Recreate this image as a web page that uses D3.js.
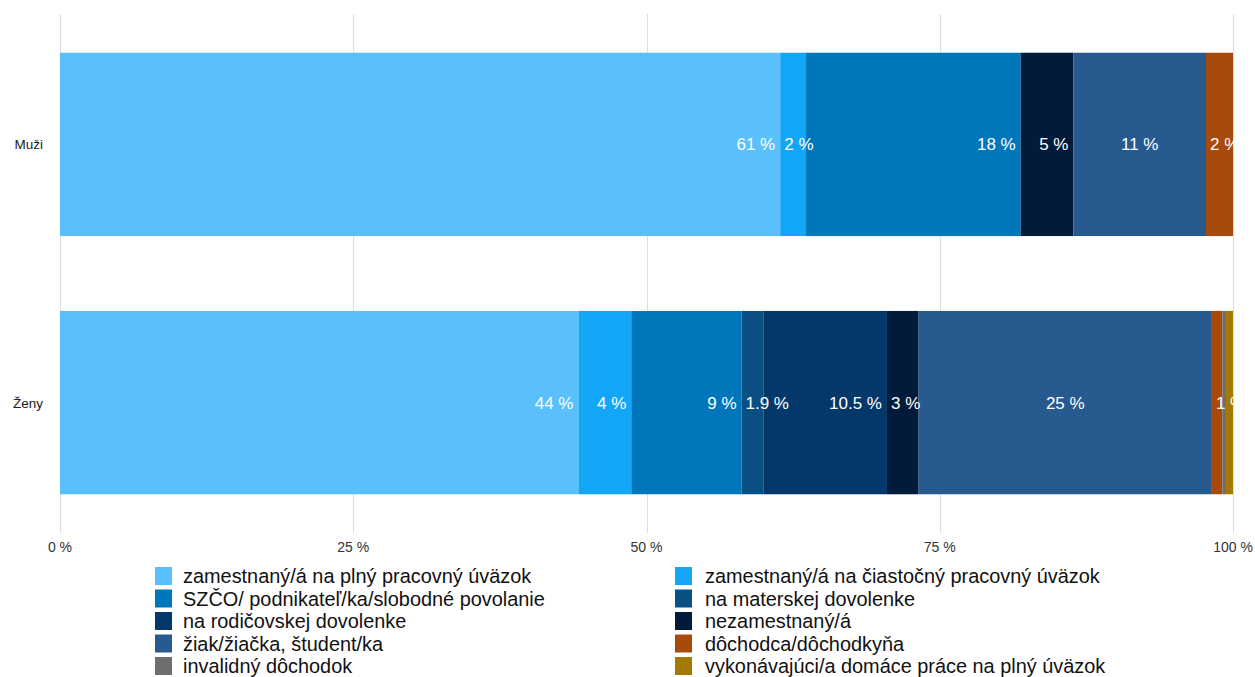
<!DOCTYPE html>
<html lang="sk">
<head>
<meta charset="utf-8">
<title>Muži / Ženy</title>
<script src="https://cdn.jsdelivr.net/npm/d3@7"></script>
<style>
  body { margin: 0; background: #fff; }
  svg { font-family: "Helvetica Neue", Helvetica, "Liberation Sans", Arial, sans-serif; }
  .grid line { stroke: #dedede; stroke-width: 1; }
  .tick-label { font-size: 14px; fill: #333; }
  .cat-label { font-size: 13.5px; fill: #222; }
  .val-label { font-size: 17px; fill: #fff; }
  .legend text { font-size: 19.9px; fill: #111; }
</style>
</head>
<body>
<div id="chart"></div>
<script>
var groups = ["Muži", "Ženy"];

var seriesNames = [
  "zamestnaný/á na plný pracovný úväzok",
  "zamestnaný/á na čiastočný pracovný úväzok",
  "SZČO/ podnikateľ/ka/slobodné povolanie",
  "na materskej dovolenke",
  "na rodičovskej dovolenke",
  "nezamestnaný/á",
  "žiak/žiačka, študent/ka",
  "dôchodca/dôchodkyňa",
  "invalidný dôchodok",
  "vykonávajúci/a domáce práce na plný úväzok"
];

var seriesColors = ["#5ac0fb", "#14a6f6", "#0077bb", "#0a4f83", "#04386a",
                    "#021b3a", "#275b90", "#a84a0c", "#6e6e6e", "#a27a04"];

// percent values, same order as seriesNames
var muziValues = [61.4, 2.2, 18.3, 0, 0, 4.5, 11.3, 2.3, 0, 0];
var zenyValues = [44.2, 4.5, 9.4, 1.9, 10.5, 2.7, 25.0, 0.9, 0.3, 0.6];

var muziLabels = ["61 %", "2 %", "18 %", "", "", "5 %", "11 %", "2 %", "", ""];
var zenyLabels = ["44 %", "4 %", "9 %", "1.9 %", "10.5 %", "3 %", "25 %", "1 %", "", ""];

// label placement inside a segment
var labelAlign = ["end", "end", "end", "end", "end", "end", "middle", "end", "end", "end"];

var xTicks = [0, 25, 50, 75, 100];

var width = 1255, height = 677;
var margin = { left: 60, right: 22, top: 14, bottom: 144 };

var svg = d3.select('#chart').append('svg')
    .attr('width', width)
    .attr('height', height);

var x = d3.scaleLinear()
    .domain([0, 100])
    .range([margin.left, width - margin.right]);

var y = d3.scaleBand()
    .domain(groups)
    .range([margin.top, height - margin.bottom])
    .paddingInner(0.29)
    .paddingOuter(0.15);

// gridlines
svg.append('g')
    .attr('class', 'grid')
    .selectAll('line')
    .data(xTicks)
    .enter().append('line')
    .attr('x1', d => Math.round(x(d)) + 0.5)
    .attr('x2', d => Math.round(x(d)) + 0.5)
    .attr('y1', margin.top)
    .attr('y2', height - margin.bottom);

svg.append('g')
    .selectAll('text')
    .data(xTicks)
    .enter().append('text')
    .attr('class', 'tick-label')
    .attr('x', d => x(d))
    .attr('y', 552)
    .attr('text-anchor', 'middle')
    .text(d => d + ' %');

// stacked bars
var rows = [
  { name: groups[0], values: muziValues, labels: muziLabels },
  { name: groups[1], values: zenyValues, labels: zenyLabels }
];

rows.forEach(function (row) {
    var acc = 0;
    var segs = row.values.map(function (v, i) {
        var s = { i: i, start: acc, end: acc + v, label: row.labels[i] };
        acc += v;
        return s;
    }).filter(s => s.end > s.start);

    var g = svg.append('g');

    g.selectAll('rect')
        .data(segs)
        .enter().append('rect')
        .attr('x', d => x(d.start))
        .attr('width', d => x(d.end) - x(d.start))
        .attr('y', y(row.name))
        .attr('height', y.bandwidth())
        .attr('fill', d => seriesColors[d.i]);

    var cy = y(row.name) + y.bandwidth() / 2 + 6;

    g.selectAll('text')
        .data(segs.filter(s => s.label))
        .enter().append('text')
        .attr('class', 'val-label')
        .attr('y', cy)
        .text(d => d.label)
        .each(function (d) {
            var t = d3.select(this);
            var tw = this.getComputedTextLength();
            var x0 = x(d.start), x1 = x(d.end);
            var mode = labelAlign[d.i];
            if (tw + 10 > x1 - x0) mode = 'start';
            if (mode === 'middle') {
                t.attr('x', (x0 + x1) / 2).attr('text-anchor', 'middle');
            } else if (mode === 'start') {
                t.attr('x', x0 + 4).attr('text-anchor', 'start');
            } else {
                t.attr('x', x1 - 5).attr('text-anchor', 'end');
            }
        });

    svg.append('text')
        .attr('class', 'cat-label')
        .attr('x', 43)
        .attr('y', cy - 1)
        .attr('text-anchor', 'end')
        .text(row.name);
});

// legend, two columns
var legend = svg.append('g').attr('class', 'legend');
var item = legend.selectAll('g')
    .data(seriesNames)
    .enter().append('g')
    .attr('transform', (d, i) => 'translate(' + (i % 2 === 0 ? 155 : 675) + ',' + (567 + Math.floor(i / 2) * 22.5) + ')');

item.append('rect')
    .attr('width', 17)
    .attr('height', 18)
    .attr('fill', (d, i) => seriesColors[i]);

item.append('text')
    .attr('x', (d, i) => i % 2 === 0 ? 28 : 30)
    .attr('y', 16)
    .text(d => d);
</script>
</body>
</html>
